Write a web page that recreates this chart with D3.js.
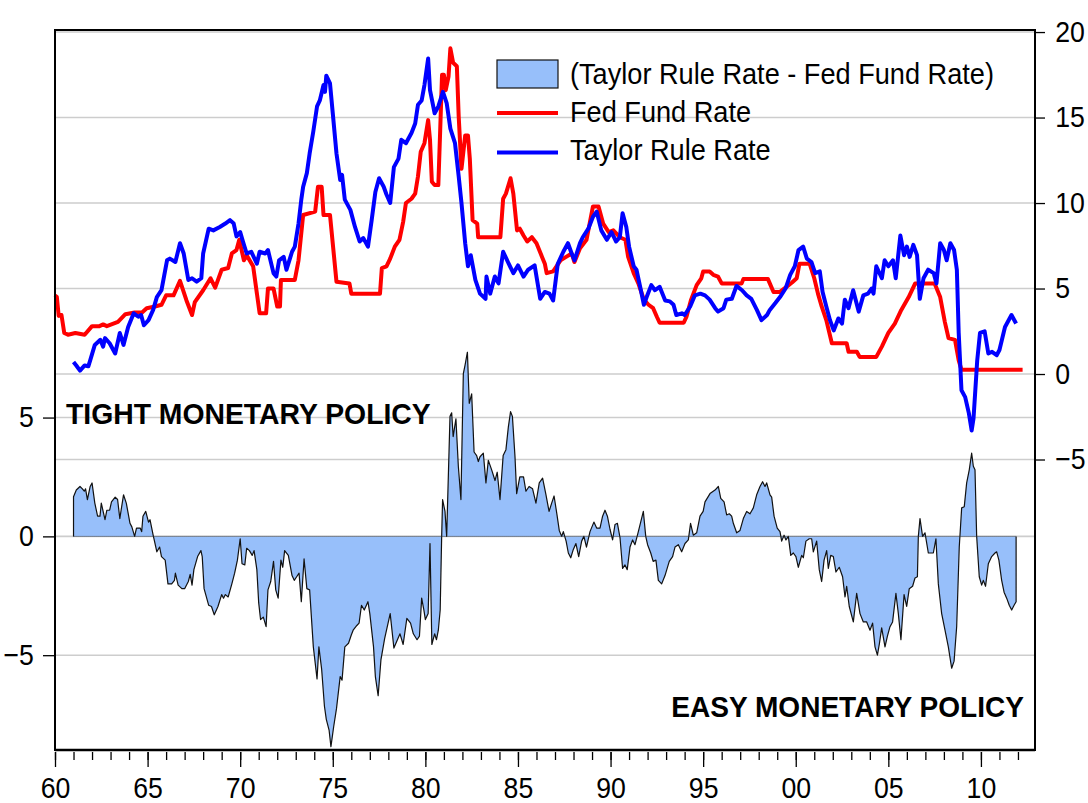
<!DOCTYPE html>
<html>
<head>
<meta charset="utf-8">
<script src="https://cdn.jsdelivr.net/npm/d3@7"></script>
<style>
  html, body { margin: 0; padding: 0; background: #fff; }
  svg { display: block; }
  text { font-family: "Liberation Sans", Arial, Helvetica, sans-serif; fill: #000; }
</style>
</head>
<body>
<svg id="chart" width="1088" height="803"></svg>
<script>
// Fed funds rate, [year, percent] (right axis)
const fedFunds = [
  [1960.0,4.6],[1960.1,4.5],[1960.2,3.4],[1960.35,3.45],[1960.5,2.4],[1960.7,2.3],[1961.1,2.4],[1961.6,2.3],
  [1962.0,2.8],[1962.4,2.8],[1962.6,2.9],[1962.8,2.8],[1963.4,3.05],[1963.8,3.5],[1964.3,3.6],[1964.7,3.6],
  [1964.95,3.85],[1965.4,3.95],[1965.75,4.05],[1966.0,4.6],[1966.4,4.6],[1966.75,5.45],[1967.1,4.3],[1967.4,3.45],
  [1967.55,4.2],[1968.0,4.9],[1968.4,5.6],[1968.65,5.05],[1969.0,6.1],[1969.35,6.2],[1969.55,7.05],[1969.8,7.25],
  [1969.95,7.85],[1970.2,6.65],[1970.35,6.95],[1970.7,6.3],[1971.05,3.55],[1971.4,3.55],[1971.5,5.0],[1971.8,5.0],
  [1972.0,3.95],[1972.15,3.95],[1972.2,5.5],[1972.95,5.5],[1973.15,6.65],[1973.4,9.3],[1974.05,9.5],[1974.2,10.95],
  [1974.4,10.95],[1974.5,9.3],[1974.85,9.3],[1975.2,5.4],[1975.9,5.3],[1976.0,4.7],[1977.55,4.7],[1977.65,6.2],
  [1977.9,6.3],[1978.1,6.75],[1978.35,7.45],[1978.6,7.85],[1978.8,8.9],[1978.95,10.0],[1979.25,10.25],[1979.45,10.55],
  [1979.6,11.55],[1979.75,13.0],[1979.95,13.5],[1980.15,14.85],[1980.25,13.7],[1980.35,11.25],[1980.5,11.05],[1980.7,11.05],
  [1980.8,14.25],[1980.9,17.5],[1981.0,17.5],[1981.1,16.6],[1981.25,17.4],[1981.35,19.05],[1981.5,18.2],[1981.7,18.0],
  [1981.8,15.05],[1981.95,12.0],[1982.15,13.95],[1982.3,13.95],[1982.4,12.6],[1982.55,9.0],[1982.8,8.8],[1982.85,8.0],
  [1984.05,8.0],[1984.2,10.25],[1984.35,10.55],[1984.6,11.45],[1984.75,10.55],[1984.95,8.4],[1985.1,8.5],[1985.3,8.1],
  [1985.5,7.75],[1985.75,8.0],[1986.0,7.65],[1986.3,6.85],[1986.45,6.45],[1986.55,5.9],[1986.9,6.0],[1987.3,6.65],
  [1987.6,6.85],[1987.9,7.05],[1988.05,6.55],[1988.35,7.35],[1988.7,7.85],[1989.05,9.8],[1989.35,9.8],[1989.6,8.8],
  [1989.9,8.3],[1990.15,8.4],[1990.5,8.0],[1990.8,7.85],[1990.95,6.85],[1991.25,5.9],[1991.5,5.3],[1991.8,4.35],
  [1992.05,4.05],[1992.3,3.85],[1992.5,3.35],[1992.65,3.0],[1993.95,3.0],[1994.1,3.35],[1994.35,4.35],[1994.65,5.2],
  [1994.9,5.6],[1995.0,6.0],[1995.35,6.0],[1995.55,5.8],[1995.8,5.7],[1996.0,5.3],[1997.08,5.3],[1997.17,5.55],
  [1998.5,5.55],[1998.8,4.8],[1999.15,4.8],[1999.5,5.1],[1999.8,5.35],[2000.05,5.6],[2000.2,6.45],[2000.75,6.45],
  [2001.0,5.6],[2001.2,4.7],[2001.4,3.95],[2001.65,3.15],[2001.95,1.8],[2002.75,1.8],[2002.85,1.3],[2003.3,1.3],
  [2003.45,1.0],[2004.35,1.0],[2004.65,1.6],[2005.0,2.4],[2005.35,2.95],[2005.7,3.75],[2006.1,4.5],[2006.45,5.3],
  [2007.5,5.3],[2007.8,4.5],[2008.05,3.05],[2008.25,2.1],[2008.6,2.0],[2008.8,0.8],[2008.95,0.25],[2012.25,0.25]
];

// Taylor rule rate, [year, percent] (right axis)
const taylorRule = [
  [1961.0,0.7],[1961.15,0.5],[1961.35,0.2],[1961.6,0.5],[1961.8,0.45],[1961.9,0.8],[1962.15,1.7],[1962.45,2.0],
  [1962.6,1.6],[1962.7,2.1],[1962.95,1.8],[1963.25,1.2],[1963.5,2.4],[1963.7,1.7],[1963.95,2.75],[1964.25,3.55],
  [1964.5,3.35],[1964.65,3.45],[1964.8,2.85],[1965.05,3.15],[1965.3,3.75],[1965.5,4.5],[1965.75,4.9],[1966.05,6.65],
  [1966.2,6.75],[1966.5,6.55],[1966.75,7.65],[1966.95,7.05],[1967.2,5.5],[1967.4,5.6],[1967.65,5.4],[1967.9,5.6],
  [1968.0,7.05],[1968.3,8.5],[1968.55,8.4],[1968.9,8.6],[1969.2,8.8],[1969.45,9.0],[1969.65,8.8],[1969.8,8.05],
  [1970.0,8.3],[1970.15,7.75],[1970.35,7.05],[1970.6,7.15],[1970.9,6.45],[1971.05,7.15],[1971.35,7.05],[1971.5,7.25],
  [1971.8,5.9],[1971.95,5.7],[1972.1,6.65],[1972.35,6.85],[1972.5,6.1],[1972.8,7.15],[1972.95,7.45],[1973.15,8.8],
  [1973.3,10.2],[1973.4,10.95],[1973.6,11.75],[1973.75,12.9],[1973.95,14.2],[1974.15,15.65],[1974.3,16.0],[1974.5,16.9],
  [1974.58,16.5],[1974.65,17.45],[1974.85,17.0],[1975.0,15.25],[1975.2,12.9],[1975.4,11.35],[1975.5,11.65],[1975.65,10.2],
  [1975.95,9.6],[1976.2,8.6],[1976.45,7.75],[1976.65,7.95],[1976.9,7.45],[1977.1,9.0],[1977.3,10.65],[1977.5,11.45],
  [1977.75,10.95],[1977.9,10.5],[1978.1,10.0],[1978.3,12.1],[1978.55,12.6],[1978.7,13.7],[1978.95,13.5],[1979.25,14.1],
  [1979.45,14.65],[1979.6,15.75],[1979.8,16.0],[1979.95,16.9],[1980.15,18.45],[1980.25,16.6],[1980.5,15.25],[1980.7,15.65],
  [1980.95,16.5],[1981.15,15.85],[1981.35,14.35],[1981.6,13.5],[1981.8,11.55],[1981.95,10.0],[1982.15,7.65],[1982.3,6.3],
  [1982.45,6.95],[1982.7,5.5],[1982.95,4.7],[1983.25,4.4],[1983.3,5.7],[1983.5,4.7],[1983.75,5.7],[1983.95,5.3],
  [1984.2,7.15],[1984.5,6.45],[1984.75,5.9],[1985.0,6.35],[1985.3,5.7],[1985.55,6.1],[1985.9,6.35],[1986.2,4.4],
  [1986.45,4.8],[1986.7,4.7],[1986.9,4.3],[1987.15,6.45],[1987.45,7.15],[1987.7,7.65],[1987.9,7.05],[1988.05,6.65],
  [1988.35,7.65],[1988.5,8.0],[1988.8,8.5],[1989.05,9.2],[1989.25,9.5],[1989.5,8.4],[1989.8,7.85],[1990.05,8.3],
  [1990.3,7.75],[1990.5,8.0],[1990.65,9.4],[1990.85,8.6],[1991.0,7.45],[1991.25,6.3],[1991.4,6.1],[1991.6,5.1],
  [1991.8,4.05],[1991.95,4.5],[1992.2,5.2],[1992.4,4.9],[1992.65,5.1],[1992.95,4.3],[1993.2,4.25],[1993.4,4.05],
  [1993.55,3.45],[1993.85,3.55],[1994.0,3.45],[1994.3,3.95],[1994.55,4.6],[1994.85,4.7],[1995.1,4.6],[1995.35,4.35],
  [1995.65,3.85],[1995.8,3.65],[1996.1,3.85],[1996.25,4.35],[1996.55,4.4],[1996.8,5.15],[1997.1,4.9],[1997.35,4.6],
  [1997.6,4.4],[1997.9,3.75],[1998.15,3.15],[1998.45,3.45],[1998.6,3.75],[1998.9,4.15],[1999.15,4.5],[1999.45,5.0],
  [1999.7,5.8],[1999.95,6.3],[2000.15,7.25],[2000.4,7.45],[2000.6,6.75],[2000.85,6.55],[2001.05,5.9],[2001.3,6.0],
  [2001.45,4.8],[2001.65,3.95],[2001.85,3.15],[2002.05,2.55],[2002.3,3.25],[2002.5,2.95],[2002.65,4.35],[2002.85,3.85],
  [2003.1,4.9],[2003.4,3.65],[2003.65,4.6],[2003.9,4.7],[2004.1,5.0],[2004.2,4.7],[2004.35,6.3],[2004.65,5.6],
  [2004.8,6.65],[2005.0,6.3],[2005.25,6.65],[2005.4,5.6],[2005.65,8.1],[2005.85,6.95],[2006.0,7.45],[2006.15,6.85],
  [2006.35,7.55],[2006.55,6.95],[2006.7,4.4],[2006.9,5.6],[2007.15,6.1],[2007.45,5.9],[2007.6,5.3],[2007.8,7.65],
  [2008.0,7.25],[2008.15,6.65],[2008.35,7.65],[2008.55,7.25],[2008.7,6.1],[2008.8,2.4],[2008.95,-0.95],[2009.15,-1.35],
  [2009.35,-2.3],[2009.5,-3.3],[2009.6,-2.6],[2009.8,0.8],[2009.95,2.4],[2010.2,2.5],[2010.4,1.2],[2010.6,1.3],
  [2010.85,1.1],[2011.0,1.4],[2011.3,2.75],[2011.65,3.45],[2011.9,2.95]
];

// Taylor rule rate minus fed funds rate, [year, points] (left axis)
const policyGap = [
  [1961.0,1.67],[1961.15,1.95],[1961.35,2.1],[1961.48,2.0],[1961.58,1.9],[1961.65,2.0],[1961.75,1.55],[1961.9,2.1],
  [1962.0,2.25],[1962.15,1.4],[1962.3,0.85],[1962.43,0.85],[1962.5,1.4],[1962.7,0.7],[1962.8,1.1],[1962.95,1.1],
  [1963.05,1.45],[1963.25,1.65],[1963.38,1.55],[1963.5,0.75],[1963.7,1.75],[1963.85,1.4],[1964.05,0.55],[1964.15,0.4],
  [1964.3,0.0],[1964.4,0.35],[1964.6,0.35],[1964.68,0.2],[1964.75,0.85],[1964.9,1.05],[1965.05,0.6],[1965.13,0.7],
  [1965.3,0.05],[1965.5,-0.65],[1965.65,-0.45],[1965.75,-0.85],[1965.95,-1.0],[1966.1,-2.0],[1966.3,-2.0],[1966.45,-1.85],
  [1966.5,-1.55],[1966.65,-2.05],[1966.85,-2.2],[1967.0,-2.2],[1967.2,-1.9],[1967.3,-1.6],[1967.4,-2.05],[1967.5,-1.4],
  [1967.7,-0.85],[1967.88,-0.6],[1967.95,-0.85],[1968.05,-2.2],[1968.3,-2.9],[1968.45,-2.95],[1968.6,-3.3],[1968.8,-2.95],
  [1969.0,-2.45],[1969.1,-2.6],[1969.2,-2.45],[1969.35,-2.55],[1969.55,-2.0],[1969.7,-1.55],[1969.85,-1.0],[1970.0,-0.1],
  [1970.1,-1.15],[1970.25,-1.2],[1970.35,-0.5],[1970.5,-0.6],[1970.65,-0.8],[1970.75,-0.6],[1970.9,-1.4],[1971.0,-2.8],
  [1971.1,-3.5],[1971.25,-3.4],[1971.4,-3.8],[1971.5,-2.25],[1971.65,-1.9],[1971.8,-1.05],[1971.92,-2.25],[1972.05,-2.6],
  [1972.2,-1.0],[1972.3,-1.3],[1972.4,-0.6],[1972.6,-0.8],[1972.8,-1.65],[1972.92,-1.85],[1973.05,-1.7],[1973.18,-1.55],
  [1973.3,-2.75],[1973.45,-0.95],[1973.6,-2.2],[1973.75,-2.25],[1973.95,-4.65],[1974.15,-6.0],[1974.25,-4.65],[1974.4,-5.6],
  [1974.55,-7.15],[1974.65,-7.7],[1974.8,-8.15],[1974.9,-8.85],[1975.05,-8.0],[1975.2,-7.25],[1975.4,-5.9],[1975.5,-6.05],
  [1975.65,-4.65],[1975.85,-4.5],[1976.0,-4.15],[1976.1,-3.95],[1976.3,-3.75],[1976.42,-3.65],[1976.55,-2.9],[1976.7,-3.1],
  [1976.9,-2.75],[1977.0,-3.25],[1977.2,-4.65],[1977.3,-5.9],[1977.45,-6.7],[1977.6,-5.2],[1977.8,-4.3],[1978.1,-3.25],
  [1978.3,-4.7],[1978.63,-4.1],[1978.8,-4.55],[1979.0,-3.45],[1979.2,-3.65],[1979.35,-4.1],[1979.55,-4.35],[1979.68,-4.2],
  [1979.8,-2.6],[1979.92,-3.1],[1980.0,-3.5],[1980.15,-3.25],[1980.25,-0.3],[1980.35,-4.55],[1980.5,-4.1],[1980.6,-4.35],
  [1980.7,-3.95],[1980.8,-3.1],[1980.88,0.0],[1980.93,1.55],[1981.06,1.05],[1981.15,0.0],[1981.33,5.05],[1981.42,5.2],
  [1981.5,4.2],[1981.65,4.95],[1981.78,2.95],[1981.92,1.55],[1982.05,6.85],[1982.14,7.2],[1982.27,7.75],[1982.37,5.6],
  [1982.5,6.0],[1982.63,3.55],[1982.77,3.4],[1982.86,3.15],[1982.95,3.35],[1983.13,3.5],[1983.27,2.25],[1983.4,3.2],
  [1983.58,2.8],[1983.76,2.35],[1983.88,2.7],[1984.03,1.55],[1984.2,3.4],[1984.35,3.65],[1984.48,4.6],[1984.6,5.25],
  [1984.7,5.05],[1984.84,3.35],[1984.93,1.8],[1985.1,2.5],[1985.3,2.5],[1985.43,1.9],[1985.6,2.1],[1985.79,2.0],
  [1985.97,1.4],[1986.15,2.25],[1986.33,2.45],[1986.5,1.8],[1986.68,1.05],[1986.82,1.4],[1986.95,1.7],[1987.1,0.95],
  [1987.23,0.25],[1987.36,0.0],[1987.45,0.2],[1987.6,-0.2],[1987.72,-0.7],[1987.85,-0.9],[1987.99,-0.55],[1988.13,-0.3],
  [1988.28,-0.85],[1988.44,-0.2],[1988.56,0.0],[1988.7,-0.45],[1988.89,0.2],[1989.1,0.6],[1989.25,0.35],[1989.43,0.35],
  [1989.57,0.85],[1989.7,1.1],[1989.83,0.85],[1989.97,0.3],[1990.11,-0.15],[1990.24,0.5],[1990.37,0.55],[1990.51,-0.05],
  [1990.65,-1.35],[1990.78,-1.2],[1990.9,-1.4],[1991.05,-0.45],[1991.19,-0.15],[1991.32,-0.35],[1991.5,0.2],[1991.77,1.05],
  [1991.9,0.0],[1992.0,-0.35],[1992.17,-0.7],[1992.3,-1.05],[1992.45,-1.0],[1992.58,-1.85],[1992.76,-2.0],[1992.94,-1.65],
  [1993.17,-1.05],[1993.35,-0.85],[1993.48,-0.45],[1993.66,-0.35],[1993.84,-0.65],[1994.02,-0.3],[1994.2,-0.15],[1994.32,0.55],
  [1994.47,0.05],[1994.65,0.15],[1994.83,0.85],[1995.0,1.05],[1995.1,1.45],[1995.37,1.8],[1995.64,1.95],[1995.82,2.1],
  [1995.95,1.6],[1996.13,1.45],[1996.27,0.9],[1996.41,0.95],[1996.54,0.85],[1996.63,0.55],[1996.81,0.15],[1996.99,0.25],
  [1997.17,0.75],[1997.35,1.05],[1997.53,0.95],[1997.71,1.2],[1997.89,1.75],[1998.07,2.1],[1998.21,2.3],[1998.34,2.1],
  [1998.43,2.25],[1998.61,1.75],[1998.7,1.65],[1998.83,0.85],[1999.0,0.35],[1999.15,0.2],[1999.24,-0.2],[1999.37,0.05],
  [1999.47,-0.15],[1999.6,0.0],[1999.73,-0.8],[1999.87,-0.7],[2000.01,-0.85],[2000.14,-1.3],[2000.32,-0.8],[2000.41,-0.9],
  [2000.55,-0.2],[2000.73,-0.1],[2000.86,-0.1],[2000.95,-0.65],[2001.13,-0.2],[2001.27,-1.4],[2001.4,-1.9],[2001.53,-1.0],
  [2001.67,-0.6],[2001.76,-1.35],[2001.89,-0.8],[2002.03,-0.85],[2002.17,-1.5],[2002.35,-1.3],[2002.53,-1.7],[2002.66,-2.55],
  [2002.75,-2.1],[2002.89,-2.95],[2003.11,-3.6],[2003.29,-2.4],[2003.47,-3.25],[2003.65,-3.6],[2003.83,-3.6],[2004.01,-3.95],
  [2004.15,-3.65],[2004.28,-4.65],[2004.41,-5.0],[2004.52,-4.5],[2004.64,-3.85],[2004.82,-4.65],[2004.95,-4.2],[2005.09,-3.8],
  [2005.23,-3.6],[2005.41,-2.4],[2005.54,-3.25],[2005.68,-4.35],[2005.85,-2.45],[2005.99,-2.95],[2006.13,-2.2],[2006.31,-2.1],
  [2006.44,-1.75],[2006.57,-1.7],[2006.62,0.0],[2006.71,0.75],[2006.85,0.0],[2006.98,0.15],[2007.16,-0.7],[2007.43,-0.7],
  [2007.57,-0.1],[2007.7,-2.0],[2007.88,-3.25],[2008.06,-3.95],[2008.24,-4.65],[2008.42,-5.55],[2008.55,-5.25],[2008.69,-3.8],
  [2008.83,-0.45],[2008.96,1.2],[2009.1,1.25],[2009.23,2.25],[2009.37,2.8],[2009.5,3.5],[2009.59,2.95],[2009.68,2.8],
  [2009.77,0.0],[2009.91,-1.7],[2010.04,-2.05],[2010.13,-1.85],[2010.25,-2.1],[2010.4,-1.15],[2010.58,-0.85],[2010.76,-0.7],
  [2010.85,-0.65],[2010.97,-1.0],[2011.12,-1.85],[2011.25,-2.35],[2011.39,-2.6],[2011.53,-2.9],[2011.66,-3.1],[2011.79,-2.9],
  [2011.9,-2.75]
];

const yearTicks = [1960, 1965, 1970, 1975, 1980, 1985, 1990, 1995, 2000, 2005, 2010];
const rightTicks = [-5, 0, 5, 10, 15, 20];
const leftTicks = [-5, 0, 5];
const legendLabels = ['(Taylor Rule Rate - Fed Fund Rate)', 'Fed Fund Rate', 'Taylor Rule Rate'];

const svg = d3.select('#chart');
const plot = { left: 55, right: 1035, top: 30, bottom: 750 };
const squeeze = 0.92; // the original lettering is a little narrower than Arial

const x = d3.scaleLinear().domain([1960, 2012.92]).range([plot.left, plot.right]);
const yRight = d3.scaleLinear().domain([-21.99, 20.12]).range([plot.bottom, plot.top]);
const yLeft = d3.scaleLinear().domain([-8.99, 21.31]).range([plot.bottom, plot.top]);

// gridlines for both value axes
const grid = svg.append('g').attr('stroke', '#cdcdcd').attr('stroke-width', 1.6);
rightTicks.forEach(v => {
  grid.append('line').attr('x1', plot.left).attr('x2', plot.right)
    .attr('y1', yRight(v)).attr('y2', yRight(v));
});
leftTicks.forEach(v => {
  grid.append('line').attr('x1', plot.left).attr('x2', plot.right)
    .attr('y1', yLeft(v)).attr('y2', yLeft(v));
});

// gap area (left axis)
const area = d3.area()
  .x(d => x(d[0]))
  .y0(yLeft(0))
  .y1(d => yLeft(d[1]));
svg.append('path').datum(policyGap)
  .attr('d', area)
  .attr('fill', '#97bffa');

const first = policyGap[0][0], last = policyGap[policyGap.length - 1][0];
svg.append('path')
  .datum([[first, 0]].concat(policyGap, [[last, 0]]))
  .attr('d', d3.line().x(d => x(d[0])).y(d => yLeft(d[1])))
  .attr('fill', 'none')
  .attr('stroke', '#111')
  .attr('stroke-width', 1.2)
  .attr('stroke-linejoin', 'round');

svg.append('line')
  .attr('x1', x(first)).attr('x2', x(last))
  .attr('y1', yLeft(0)).attr('y2', yLeft(0))
  .attr('stroke', '#333').attr('stroke-width', 1)
  .attr('stroke-dasharray', '1,1');

// rate lines (right axis)
const rateLine = d3.line().x(d => x(d[0])).y(d => yRight(d[1]));
svg.append('path').datum(fedFunds)
  .attr('d', rateLine)
  .attr('fill', 'none').attr('stroke', '#ff0000')
  .attr('stroke-width', 4).attr('stroke-linejoin', 'round');
svg.append('path').datum(taylorRule)
  .attr('d', rateLine)
  .attr('fill', 'none').attr('stroke', '#0000ff')
  .attr('stroke-width', 4).attr('stroke-linejoin', 'round');

// frame
svg.append('rect')
  .attr('x', plot.left).attr('y', plot.top)
  .attr('width', plot.right - plot.left).attr('height', plot.bottom - plot.top)
  .attr('fill', 'none').attr('stroke', '#000').attr('stroke-width', 2);
svg.append('line')
  .attr('x1', plot.left).attr('x2', plot.right)
  .attr('y1', plot.bottom).attr('y2', plot.bottom)
  .attr('stroke', '#000').attr('stroke-width', 2.6);

function styleAxis(g) {
  g.select('.domain').remove();
  g.selectAll('line').attr('stroke', '#000').attr('stroke-width', 1.3);
  g.selectAll('text')
    .attr('font-family', '"Liberation Sans", Arial, sans-serif')
    .attr('font-size', 29)
    .attr('fill', '#000');
}

// x axis: yearly minor ticks, 5-year major ticks with labels
svg.append('g')
  .attr('transform', `translate(0,${plot.bottom + 2})`)
  .call(d3.axisBottom(x).tickValues(d3.range(1960, 2013)).tickSize(8).tickFormat(''))
  .call(styleAxis);
svg.append('g')
  .attr('transform', `translate(0,${plot.bottom + 2})`)
  .call(d3.axisBottom(x).tickValues(yearTicks).tickSize(15).tickPadding(10)
    .tickFormat(d => String(d % 100).padStart(2, '0')))
  .call(styleAxis)
  .call(g => g.selectAll('text').attr('transform', `scale(${squeeze},1)`));

// right axis
svg.append('g')
  .attr('transform', `translate(${plot.right},0)`)
  .call(d3.axisRight(yRight).tickValues(rightTicks).tickSize(10).tickPadding(12))
  .call(styleAxis)
  .call(g => g.selectAll('text').attr('transform', `scale(${squeeze},1)`));

// left axis
svg.append('g')
  .attr('transform', `translate(${plot.left},0)`)
  .call(d3.axisLeft(yLeft).tickValues(leftTicks).tickSize(12).tickPadding(11))
  .call(styleAxis)
  .call(g => g.selectAll('text').attr('transform', `scale(${squeeze},1)`));

// legend
const legend = svg.append('g');
legend.append('rect')
  .attr('x', 497).attr('y', 60).attr('width', 61).attr('height', 28)
  .attr('fill', '#97bffa').attr('stroke', '#111').attr('stroke-width', 1.2);
legend.append('line')
  .attr('x1', 497).attr('x2', 558).attr('y1', 113).attr('y2', 113)
  .attr('stroke', '#ff0000').attr('stroke-width', 4);
legend.append('line')
  .attr('x1', 497).attr('x2', 558).attr('y1', 152.5).attr('y2', 152.5)
  .attr('stroke', '#0000ff').attr('stroke-width', 4);
legendLabels.forEach((label, i) => {
  legend.append('text')
    .attr('transform', `translate(570,${84 + i * 38}) scale(0.905,1)`)
    .attr('font-size', 30)
    .text(label);
});

// annotations
svg.append('text')
  .attr('transform', 'translate(66,424) scale(0.945,1)')
  .attr('font-size', 30).attr('font-weight', 'bold')
  .text('TIGHT MONETARY POLICY');
svg.append('text')
  .attr('transform', 'translate(1024,717) scale(0.935,1)')
  .attr('text-anchor', 'end')
  .attr('font-size', 30).attr('font-weight', 'bold')
  .text('EASY MONETARY POLICY');
</script>
</body>
</html>
